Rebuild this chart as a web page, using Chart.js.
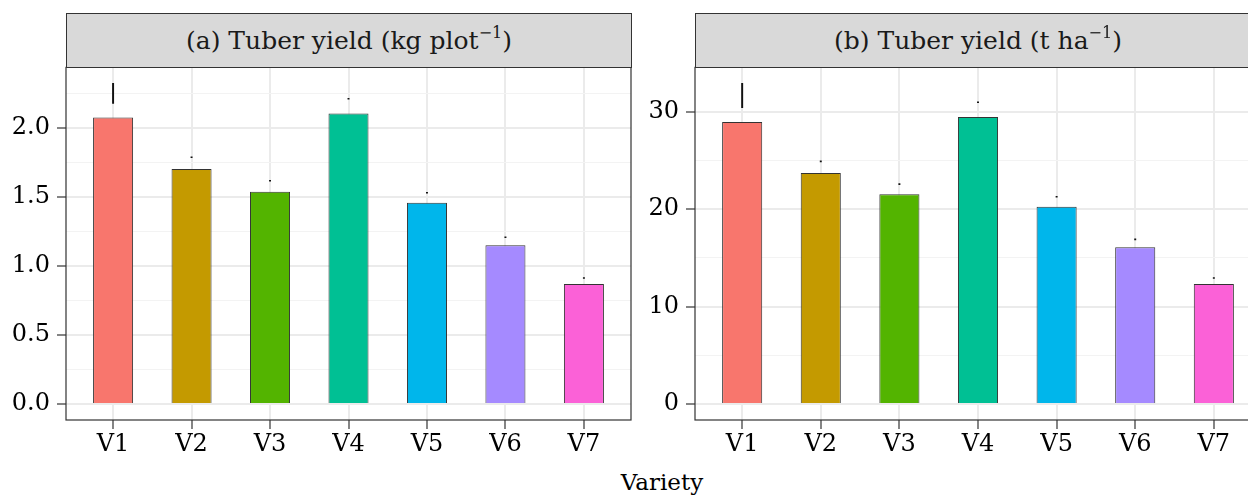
<!DOCTYPE html>
<html>
<head>
<meta charset="utf-8">
<script src="https://cdn.jsdelivr.net/npm/chart.js@4.4.1/dist/chart.umd.min.js"></script>
<style>
html, body { margin:0; padding:0; background:#fff; overflow:hidden; width:1248px; height:497px; }
body { position:relative; font-family:"DejaVu Serif", serif; color:#1a1a1a; }
.panel { position:absolute; top:46px; width:640px; height:414px; }
.strip { position:absolute; top:13px; height:55px; width:566px; background:#D9D9D9; border:1px solid #333; box-sizing:border-box;
         font-size:25px; line-height:53px; text-align:center; white-space:nowrap; }
.strip sup { font-size:16px; vertical-align:0; position:relative; top:-11px; }
#xtitle { position:absolute; left:0; width:1324px; top:467px; text-align:center; font-size:23px; line-height:30px; color:#000; }
</style>
</head>
<body>
<div class="panel" style="left:0px"><canvas id="cA" width="640" height="414"></canvas></div>
<div class="panel" style="left:630px"><canvas id="cB" width="640" height="414"></canvas></div>
<div class="strip" style="left:66px">(a) Tuber yield (kg plot<sup>−1</sup>)</div>
<div class="strip" style="left:695px">(b) Tuber yield (t ha<sup>−1</sup>)</div>
<div id="xtitle">Variety</div>
<script>
// ---- data ----
const categories = ['V1', 'V2', 'V3', 'V4', 'V5', 'V6', 'V7'];
const barColors = ['#F8766D', '#C49A00', '#53B400', '#00C094', '#00B6EB', '#A58AFF', '#FB61D7'];

const yieldKgPlot   = [2.077, 1.703, 1.538, 2.106, 1.459, 1.150, 0.870];
const errLowKgPlot  = [2.179, 1.785, 1.615, 2.209, 1.528, 1.205, 0.910];
const errHighKgPlot = [2.324, 1.792, 1.622, 2.216, 1.535, 1.212, 0.917];

const yieldTHa   = [28.94, 23.71, 21.52, 29.46, 20.25, 16.08, 12.32];
const errLowTHa  = [30.41, 24.85, 22.52, 30.92, 21.22, 16.85, 12.88];
const errHighTHa = [32.90, 24.95, 22.62, 31.02, 21.32, 16.95, 12.98];

const majorTicksA = [0, 0.5, 1.0, 1.5, 2.0];
const minorTicksA = [0.25, 0.75, 1.25, 1.75, 2.25];
const majorTicksB = [0, 10, 20, 30];
const minorTicksB = [5, 15, 25];

const FONT = { family: 'DejaVu Serif', size: 24, lineHeight: 1.2 };

const borderPlugin = {
  id: 'panelBorder',
  afterDraw(chart) {
    const a = chart.chartArea, ctx = chart.ctx;
    ctx.save();
    ctx.strokeStyle = '#333333';
    ctx.lineWidth = 1.2;
    ctx.strokeRect(a.left, a.top, a.right - a.left, a.bottom - a.top);
    ctx.restore();
  }
};

function makePanel(id, values, lo, hi, majors, minors, yMin, yMax, decimals, yWidth) {
  const isMajor = v => majors.some(m => Math.abs(m - v) < 1e-9);
  new Chart(document.getElementById(id), {
    type: 'bar',
    data: {
      datasets: [
        {
          data: values.map((v, i) => ({ x: i + 1, y: v })),
          backgroundColor: barColors,
          borderColor: '#333333',
          borderWidth: 1,
          barPercentage: 0.51,
          categoryPercentage: 1,
          grouped: false,
          order: 2
        },
        {
          data: lo.map((l, i) => ({ x: i + 1, y: [l, hi[i]] })),
          backgroundColor: '#111111',
          borderWidth: 0,
          barThickness: 1.3,
          grouped: false,
          order: 1
        }
      ]
    },
    options: {
      responsive: false,
      animation: false,
      layout: { padding: { left: 0, top: 0, right: 9, bottom: 0 } },
      plugins: { legend: { display: false }, tooltip: { enabled: false }, title: { display: false } },
      scales: {
        x: {
          type: 'linear',
          offset: false,
          min: 0.4, max: 7.6,
          afterBuildTicks: s => { s.ticks = categories.map((c, i) => ({ value: i + 1 })); },
          afterFit: s => { s.height = 40; },
          border: { display: false },
          grid: { offset: false, color: '#EBEBEB', lineWidth: 2, tickColor: '#333333', tickLength: 9, tickWidth: 1.2, drawTicks: true },
          ticks: {
            autoSkip: false, maxRotation: 0, color: '#000', font: FONT, padding: 1,
            callback: v => categories[Math.round(v) - 1]
          }
        },
        y: {
          type: 'linear',
          min: yMin, max: yMax,
          afterBuildTicks: s => {
            s.ticks = majors.concat(minors).sort((a, b) => a - b).map(v => ({ value: v }));
          },
          afterFit: s => { s.width = yWidth; },
          border: { display: false },
          grid: {
            color: c => (c.tick && isMajor(c.tick.value)) ? '#EBEBEB' : '#F3F3F3',
            lineWidth: c => (c.tick && isMajor(c.tick.value)) ? 2 : 1,
            tickColor: c => (c.tick && isMajor(c.tick.value)) ? '#333333' : 'rgba(0,0,0,0)',
            tickLength: 9, tickWidth: 1.2, drawTicks: true
          },
          ticks: {
            autoSkip: false, color: '#000', font: FONT, padding: 7,
            callback: v => isMajor(v) ? v.toFixed(decimals) : ''
          }
        }
      }
    },
    plugins: [borderPlugin]
  });
}

makePanel('cA', yieldKgPlot, errLowKgPlot, errHighKgPlot, majorTicksA, minorTicksA, -0.116, 2.44, 1, 66);
makePanel('cB', yieldTHa, errLowTHa, errHighTHa, majorTicksB, minorTicksB, -1.645, 34.545, 0, 65);
</script>
</body>
</html>
